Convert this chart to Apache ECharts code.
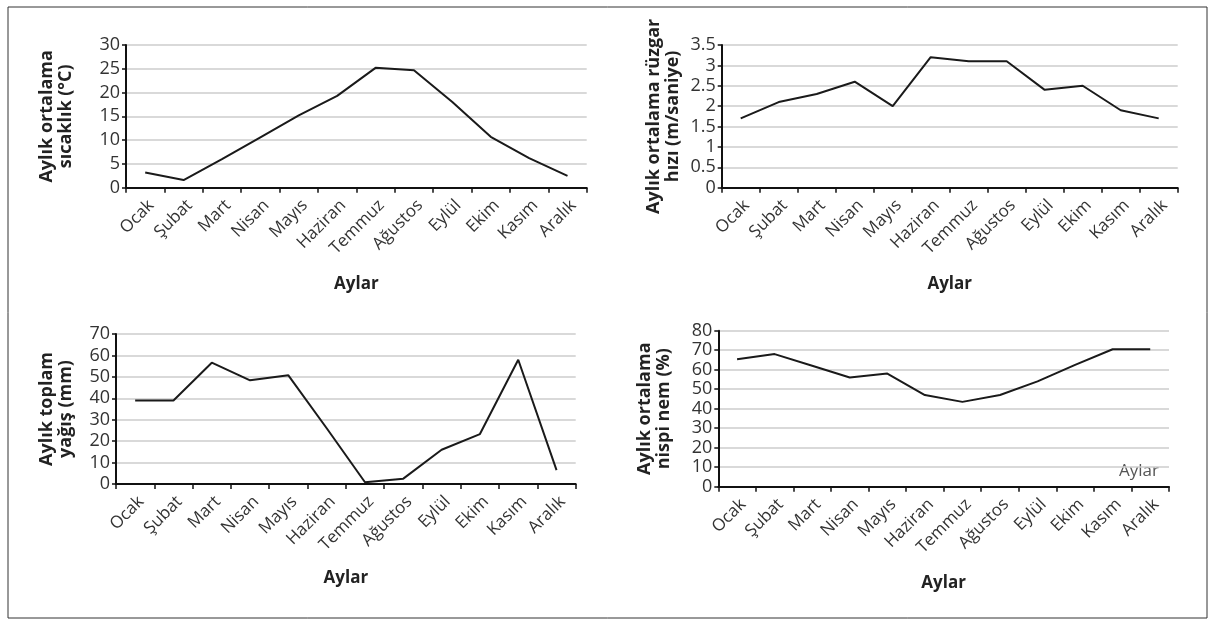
<!DOCTYPE html>
<html>
<head>
<meta charset="utf-8">
<script src="https://cdn.jsdelivr.net/npm/echarts@6/dist/echarts.min.js"></script>
<style>
html,body{margin:0;padding:0;background:#fff;}
#c{width:1216px;height:619px;}
</style>
</head>
<body>
<div id="c"></div>
<script>
const months = ['Ocak','Şubat','Mart','Nisan','Mayıs','Haziran','Temmuz','Ağustos','Eylül','Ekim','Kasım','Aralık'];
const temperature = [3.2, 1.6, 6.0, 10.6, 15.2, 19.3, 25.2, 24.7, 18, 10.7, 6.2, 2.5];
const wind = [1.7, 2.1, 2.3, 2.6, 2.0, 3.2, 3.1, 3.1, 2.4, 2.5, 1.9, 1.7];
const precipitation = [39, 39, 56.6, 48.4, 50.7, 26, 0.8, 2.5, 16, 23.3, 58, 6.5];
const humidity = [65.3, 68, 62, 56, 58, 47, 43.5, 47, 54, 62.5, 70.5, 70.5];
const yNames = ['Aylık ortalama\nsıcaklık (°C)', 'Aylık ortalama rüzgar\nhızı (m/saniye)', 'Aylık toplam\nyağış (mm)', 'Aylık ortalama\nnispi nem (%)'];
const xName = 'Aylar';

const FONT = '"Open Sans", "DejaVu Sans", sans-serif';
const chart = echarts.init(document.getElementById('c'), null, {renderer: 'canvas'});

const grids = [
  {left: 126, top: 45, width: 460.7, height: 142.7},
  {left: 721.7, top: 45, width: 456, height: 142.7},
  {left: 116, top: 334, width: 459.7, height: 150},
  {left: 718.3, top: 330.7, width: 450.7, height: 156}
];
const yCfg = [
  {max: 30, interval: 5, gap: 51},
  {max: 3.5, interval: 0.5, gap: 39},
  {max: 70, interval: 10, gap: 41},
  {max: 80, interval: 10, gap: 45}
];
const xGaps = [88, 88, 86, 88];
const data = [temperature, wind, precipitation, humidity];

const xAxes = grids.map((g, i) => ({
  type: 'category', gridIndex: i, data: months, boundaryGap: true,
  name: xName, nameLocation: 'middle', nameGap: xGaps[i],
  nameTextStyle: {fontFamily: FONT, fontWeight: 'bold', fontSize: 17, color: '#222'},
  axisLine: {lineStyle: {color: '#111', width: 2}},
  axisTick: {show: true, length: 5, lineStyle: {color: '#111', width: 1.5}},
  axisLabel: {rotate: 45, fontFamily: FONT, fontSize: 17, color: '#333', margin: 9, interval: 0, verticalAlign: 'top'},
  splitLine: {show: false}
}));
const yAxes = grids.map((g, i) => ({
  type: 'value', gridIndex: i, min: 0, max: yCfg[i].max, interval: yCfg[i].interval,
  name: yNames[i], nameLocation: 'middle', nameGap: yCfg[i].gap, nameRotate: 90,
  nameTextStyle: {fontFamily: FONT, fontWeight: 'bold', fontSize: 18, color: '#222', lineHeight: 19},
  axisLine: {show: true, lineStyle: {color: '#111', width: 2}},
  axisTick: {show: true, length: 4, lineStyle: {color: '#111', width: 1.5}},
  axisLabel: {fontFamily: FONT, fontSize: 18, color: '#333', margin: 6},
  splitLine: {show: true, lineStyle: {color: '#cccccc', width: 1.5}}
}));
const series = data.map((d, i) => ({
  type: 'line', xAxisIndex: i, yAxisIndex: i, data: d,
  symbol: 'none', smooth: false, animation: false,
  lineStyle: {color: '#1a1a1a', width: 2}
}));

chart.setOption({
  animation: false,
  backgroundColor: '#fff',
  grid: grids,
  xAxis: xAxes,
  yAxis: yAxes,
  series: series,
  graphic: [
    {type: 'rect', shape: {x: 8, y: 7, width: 1199, height: 611},
     style: {fill: 'none', stroke: '#333', lineWidth: 1}, silent: true, z: -1},
    {type: 'text', left: 1119, top: 463,
     style: {text: xName, fontFamily: FONT, fontSize: 17, fill: '#555'}}
  ]
});
</script>
</body>
</html>
